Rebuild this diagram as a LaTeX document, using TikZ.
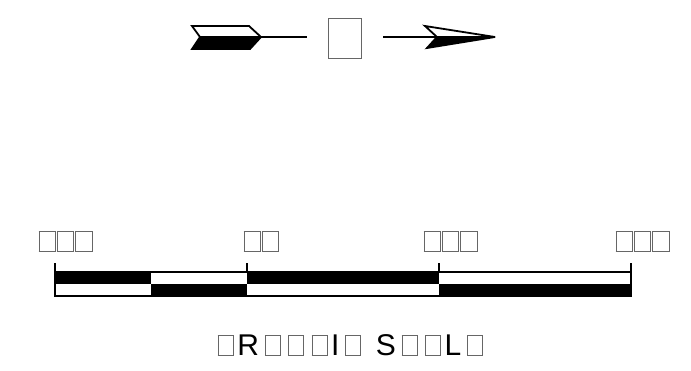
\documentclass[tikz,border=0pt]{standalone}
\usepackage{fontspec}
\usepackage{xcolor}
\setmainfont{Liberation Sans}
\usetikzlibrary{positioning}

% missing-glyph box: width, height, advance
\newcommand{\tofu}[3]{\makebox[#3][c]{\textcolor{black!60}{\setlength{\fboxsep}{0pt}\setlength{\fboxrule}{1pt}\fbox{\rule{0pt}{\dimexpr#2-2pt\relax}\rule{\dimexpr#1-2pt\relax}{0pt}}}}}
\newcommand{\tofuT}{\tofu{16pt}{21pt}{23.3pt}}
\newcommand{\tofuL}{\tofu{17.5pt}{21pt}{18.3pt}}
\newcommand{\tofuN}{\tofu{34pt}{41pt}{34pt}}
\newcommand{\tkern}{\kern2.3pt}

\begin{document}
\begin{tikzpicture}[
    x=1pt, y=-1pt,
    barline/.style={line width=2pt},
    arrowline/.style={line width=1.8pt, line join=miter},
    scalelabel/.style={inner sep=0pt, anchor=south west},
    titletext/.style={inner sep=0pt, anchor=base, font=\fontsize{30}{32}\selectfont}
  ]
    \useasboundingbox (0,0) rectangle (691,370);

    % north arrow
    \filldraw[arrowline, fill=white] (192,26) -- (249,26) -- (261,37) -- (200,37) -- cycle;
    \filldraw[arrowline] (200,37) -- (261,37) -- (250,49) -- (192,49) -- cycle;
    \coordinate (fletch) at (261,37);
    \node[inner sep=0pt, minimum width=76pt] (north) at (345,38) {\tofuN};
    \filldraw[arrowline, fill=white] (425,26) -- (495,37) -- (437,37) -- cycle;
    \filldraw[arrowline] (437,37) -- (495,37) -- (427,48) -- cycle;
    \coordinate (notch) at (437,37);
    \draw[arrowline] (fletch) -- (fletch -| north.west);
    \draw[arrowline] (notch -| north.east) -- (notch);

    % scale bar
    \foreach \xa/\xb/\ya in {55/151/272, 151/247/284, 247/439/272, 439/631/284}
      \fill (\xa,\ya) rectangle (\xb,\ya+12);
    \draw[barline] (55,272) rectangle (631,296);
    \foreach \x in {55,247,439,631}
      \draw[barline] (\x,263) -- (\x,272);

    \node[scalelabel] (lbl0) at (38,252) {\tofuL\tofuL\tofuL};
    \node[scalelabel] (lbl1) at (243,252) {\tofuL\tofuL};
    \node[scalelabel] (lbl2) at (423,252) {\tofuL\tofuL\tofuL};
    \node[scalelabel] (lbl3) at (615,252) {\tofuL\tofuL\tofuL};

    \node[titletext] (title) at (350.5,355) {\tofuT R\tkern\tofuT\tofuT\tofuT I\tkern\tofuT\ \tkern S\tkern\tofuT\tofuT L\tkern\tofuT};
  \end{tikzpicture}
\end{document}
